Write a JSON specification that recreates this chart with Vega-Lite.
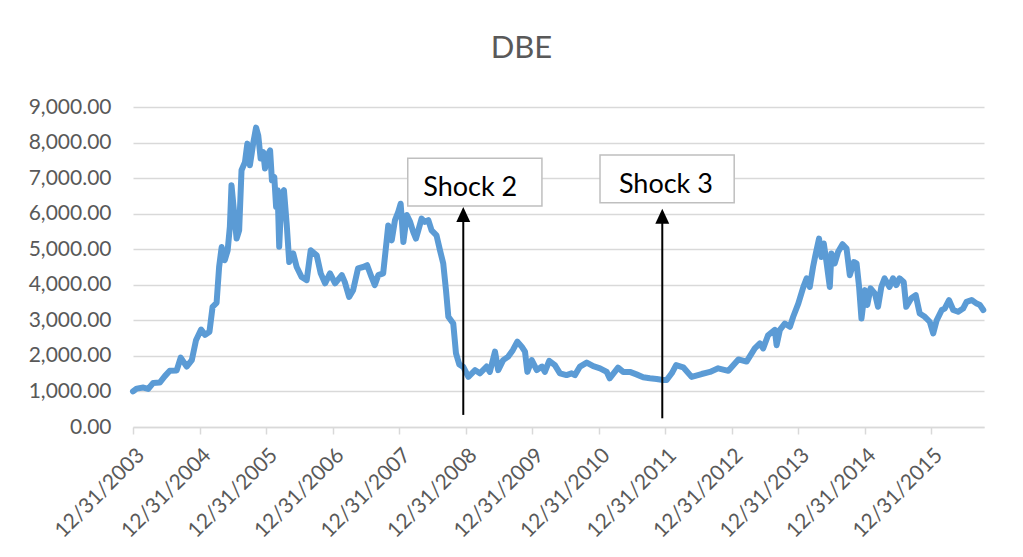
{
  "$schema": "https://vega.github.io/schema/vega-lite/v6.json",
  "width": 851,
  "height": 320,
  "autosize": "none",
  "padding": {"left": 133, "top": 107, "right": 39, "bottom": 130},
  "background": "white",
  "title": {"text": "DBE", "font": "Lato", "fontSize": 31, "fontWeight": "normal", "color": "#595959", "dx": -37, "offset": 31},
  "config": {"view": {"stroke": null}, "font": "Lato"},
  "datasets": {
    "series": [
      {"date": "2003-12-31", "value": 1000}, {"date": "2004-01-20", "value": 1080}, {"date": "2004-02-26", "value": 1110},
      {"date": "2004-03-23", "value": 1070}, {"date": "2004-04-20", "value": 1240}, {"date": "2004-05-26", "value": 1250},
      {"date": "2004-06-23", "value": 1430}, {"date": "2004-07-20", "value": 1580}, {"date": "2004-08-27", "value": 1590},
      {"date": "2004-09-18", "value": 1950}, {"date": "2004-10-21", "value": 1700}, {"date": "2004-11-18", "value": 1880},
      {"date": "2004-12-11", "value": 2440}, {"date": "2005-01-08", "value": 2740}, {"date": "2005-01-30", "value": 2590},
      {"date": "2005-02-23", "value": 2680}, {"date": "2005-03-12", "value": 3380}, {"date": "2005-04-03", "value": 3490},
      {"date": "2005-04-17", "value": 4500}, {"date": "2005-05-01", "value": 5060}, {"date": "2005-05-18", "value": 4690},
      {"date": "2005-06-03", "value": 4970}, {"date": "2005-06-15", "value": 5630}, {"date": "2005-06-24", "value": 6800},
      {"date": "2005-07-07", "value": 6100}, {"date": "2005-07-22", "value": 5300}, {"date": "2005-08-05", "value": 5530},
      {"date": "2005-08-18", "value": 7220}, {"date": "2005-09-06", "value": 7450}, {"date": "2005-09-19", "value": 7970},
      {"date": "2005-10-03", "value": 7360}, {"date": "2005-10-21", "value": 7970}, {"date": "2005-11-06", "value": 8420},
      {"date": "2005-11-18", "value": 8200}, {"date": "2005-12-01", "value": 7550}, {"date": "2005-12-15", "value": 7730},
      {"date": "2005-12-25", "value": 7270}, {"date": "2006-01-07", "value": 7640}, {"date": "2006-01-22", "value": 7780},
      {"date": "2006-02-01", "value": 6940}, {"date": "2006-02-14", "value": 7030}, {"date": "2006-02-24", "value": 6190},
      {"date": "2006-03-04", "value": 6660}, {"date": "2006-03-13", "value": 5070}, {"date": "2006-03-26", "value": 6560},
      {"date": "2006-04-08", "value": 6660}, {"date": "2006-04-23", "value": 5720}, {"date": "2006-05-07", "value": 4640},
      {"date": "2006-05-29", "value": 4880}, {"date": "2006-06-17", "value": 4500}, {"date": "2006-07-14", "value": 4220},
      {"date": "2006-08-11", "value": 4130}, {"date": "2006-09-02", "value": 4970}, {"date": "2006-10-05", "value": 4830},
      {"date": "2006-10-27", "value": 4320}, {"date": "2006-11-20", "value": 4040}, {"date": "2006-12-17", "value": 4320},
      {"date": "2007-01-14", "value": 4040}, {"date": "2007-02-20", "value": 4270}, {"date": "2007-03-08", "value": 4080},
      {"date": "2007-04-01", "value": 3660}, {"date": "2007-04-23", "value": 3850}, {"date": "2007-05-20", "value": 4460},
      {"date": "2007-06-17", "value": 4500}, {"date": "2007-07-09", "value": 4550}, {"date": "2007-08-02", "value": 4220},
      {"date": "2007-08-20", "value": 3990}, {"date": "2007-09-08", "value": 4270}, {"date": "2007-10-05", "value": 4320},
      {"date": "2007-11-02", "value": 5670}, {"date": "2007-11-21", "value": 5250}, {"date": "2007-12-09", "value": 5820},
      {"date": "2007-12-27", "value": 6050}, {"date": "2008-01-09", "value": 6280}, {"date": "2008-01-24", "value": 5200},
      {"date": "2008-02-12", "value": 5960}, {"date": "2008-03-01", "value": 5770}, {"date": "2008-03-18", "value": 5490},
      {"date": "2008-04-02", "value": 5300}, {"date": "2008-04-15", "value": 5530}, {"date": "2008-05-03", "value": 5860},
      {"date": "2008-05-21", "value": 5770}, {"date": "2008-06-09", "value": 5820}, {"date": "2008-06-27", "value": 5530},
      {"date": "2008-07-24", "value": 5390}, {"date": "2008-08-12", "value": 4970}, {"date": "2008-08-30", "value": 4600},
      {"date": "2008-09-14", "value": 3850}, {"date": "2008-09-27", "value": 3100}, {"date": "2008-10-24", "value": 2910},
      {"date": "2008-11-08", "value": 2070}, {"date": "2008-11-26", "value": 1760}, {"date": "2008-12-18", "value": 1690},
      {"date": "2009-01-15", "value": 1410}, {"date": "2009-02-21", "value": 1600}, {"date": "2009-03-19", "value": 1510},
      {"date": "2009-04-25", "value": 1700}, {"date": "2009-05-13", "value": 1550}, {"date": "2009-06-10", "value": 2120},
      {"date": "2009-06-28", "value": 1600}, {"date": "2009-07-25", "value": 1880}, {"date": "2009-08-22", "value": 1980},
      {"date": "2009-09-16", "value": 2160}, {"date": "2009-10-11", "value": 2400}, {"date": "2009-11-04", "value": 2260},
      {"date": "2009-11-22", "value": 2120}, {"date": "2009-12-05", "value": 1550}, {"date": "2009-12-29", "value": 1880},
      {"date": "2010-01-26", "value": 1600}, {"date": "2010-02-23", "value": 1700}, {"date": "2010-03-11", "value": 1550},
      {"date": "2010-04-04", "value": 1860}, {"date": "2010-05-05", "value": 1740}, {"date": "2010-06-02", "value": 1510},
      {"date": "2010-07-08", "value": 1460}, {"date": "2010-08-05", "value": 1510}, {"date": "2010-08-23", "value": 1460},
      {"date": "2010-09-20", "value": 1700}, {"date": "2010-10-27", "value": 1810}, {"date": "2010-12-02", "value": 1710},
      {"date": "2011-01-08", "value": 1650}, {"date": "2011-02-14", "value": 1550}, {"date": "2011-03-02", "value": 1370},
      {"date": "2011-04-17", "value": 1670}, {"date": "2011-05-15", "value": 1550}, {"date": "2011-06-21", "value": 1550},
      {"date": "2011-07-27", "value": 1480}, {"date": "2011-09-02", "value": 1400}, {"date": "2011-10-09", "value": 1370},
      {"date": "2011-11-15", "value": 1350}, {"date": "2011-12-21", "value": 1320}, {"date": "2012-01-09", "value": 1320},
      {"date": "2012-02-06", "value": 1510}, {"date": "2012-03-01", "value": 1740}, {"date": "2012-04-09", "value": 1680},
      {"date": "2012-05-25", "value": 1410}, {"date": "2012-07-19", "value": 1490}, {"date": "2012-09-03", "value": 1550},
      {"date": "2012-10-18", "value": 1650}, {"date": "2012-12-13", "value": 1580}, {"date": "2013-02-06", "value": 1900},
      {"date": "2013-03-23", "value": 1840}, {"date": "2013-05-07", "value": 2210}, {"date": "2013-06-04", "value": 2350},
      {"date": "2013-06-22", "value": 2210}, {"date": "2013-07-19", "value": 2580}, {"date": "2013-08-25", "value": 2730},
      {"date": "2013-09-04", "value": 2300}, {"date": "2013-09-22", "value": 2730}, {"date": "2013-10-19", "value": 2910},
      {"date": "2013-11-16", "value": 2820}, {"date": "2013-12-04", "value": 3100}, {"date": "2014-01-01", "value": 3470},
      {"date": "2014-01-29", "value": 3940}, {"date": "2014-02-16", "value": 4180}, {"date": "2014-03-05", "value": 3940},
      {"date": "2014-03-23", "value": 4500}, {"date": "2014-04-07", "value": 4880}, {"date": "2014-04-25", "value": 5300},
      {"date": "2014-05-08", "value": 4780}, {"date": "2014-05-21", "value": 5160}, {"date": "2014-06-05", "value": 4640},
      {"date": "2014-06-23", "value": 3940}, {"date": "2014-07-02", "value": 4880}, {"date": "2014-07-20", "value": 4600},
      {"date": "2014-08-08", "value": 4930}, {"date": "2014-09-01", "value": 5140}, {"date": "2014-09-23", "value": 5020},
      {"date": "2014-10-11", "value": 4270}, {"date": "2014-11-02", "value": 4640}, {"date": "2014-11-17", "value": 4600},
      {"date": "2014-12-01", "value": 3940}, {"date": "2014-12-14", "value": 3050}, {"date": "2015-01-02", "value": 3850},
      {"date": "2015-01-15", "value": 3430}, {"date": "2015-02-02", "value": 3900}, {"date": "2015-02-26", "value": 3750},
      {"date": "2015-03-15", "value": 3380}, {"date": "2015-04-02", "value": 3940}, {"date": "2015-04-20", "value": 4180},
      {"date": "2015-05-17", "value": 3940}, {"date": "2015-06-05", "value": 4180}, {"date": "2015-06-23", "value": 3990},
      {"date": "2015-07-11", "value": 4180}, {"date": "2015-08-03", "value": 4080}, {"date": "2015-08-17", "value": 3380},
      {"date": "2015-09-14", "value": 3620}, {"date": "2015-10-08", "value": 3710}, {"date": "2015-10-30", "value": 3190},
      {"date": "2015-11-27", "value": 3100}, {"date": "2015-12-24", "value": 2960}, {"date": "2016-01-12", "value": 2630},
      {"date": "2016-01-31", "value": 3000}, {"date": "2016-02-28", "value": 3290}, {"date": "2016-03-15", "value": 3330},
      {"date": "2016-04-08", "value": 3570}, {"date": "2016-05-01", "value": 3290}, {"date": "2016-05-28", "value": 3240},
      {"date": "2016-06-24", "value": 3330}, {"date": "2016-07-13", "value": 3520}, {"date": "2016-08-10", "value": 3570},
      {"date": "2016-09-07", "value": 3470}, {"date": "2016-09-25", "value": 3430}, {"date": "2016-10-13", "value": 3290}
    ],
    "boxes": [
      {"start": "2008-02-17", "end": "2010-02-23", "top": 7557, "bottom": 6216},
      {"start": "2011-01-08", "end": "2013-01-14", "top": 7650, "bottom": 6308}
    ],
    "labels": [
      {"date": "2009-01-25", "value": 6497, "text": "Shock 2"},
      {"date": "2012-01-05", "value": 6573, "text": "Shock 3"}
    ],
    "arrows": [
      {"date": "2008-12-18", "base": 340, "head": 5979},
      {"date": "2011-12-16", "base": 245, "head": 5929}
    ]
  },
  "layer": [
    {
      "data": {"name": "series"},
      "mark": {"type": "line", "color": "#5B9BD5", "strokeWidth": 6, "strokeJoin": "round", "strokeCap": "round"},
      "encoding": {
        "x": {
          "field": "date", "type": "temporal", "title": null,
          "scale": {"type": "utc", "domain": [{"year": 2003, "month": 12, "date": 31, "utc": true}, {"year": 2016, "month": 10, "date": 17, "utc": true}]},
          "axis": {
            "values": [
              {"year": 2003, "month": 12, "date": 31, "utc": true}, {"year": 2004, "month": 12, "date": 31, "utc": true},
              {"year": 2005, "month": 12, "date": 31, "utc": true}, {"year": 2006, "month": 12, "date": 31, "utc": true},
              {"year": 2007, "month": 12, "date": 31, "utc": true}, {"year": 2008, "month": 12, "date": 31, "utc": true},
              {"year": 2009, "month": 12, "date": 31, "utc": true}, {"year": 2010, "month": 12, "date": 31, "utc": true},
              {"year": 2011, "month": 12, "date": 31, "utc": true}, {"year": 2012, "month": 12, "date": 31, "utc": true},
              {"year": 2013, "month": 12, "date": 31, "utc": true}, {"year": 2014, "month": 12, "date": 31, "utc": true},
              {"year": 2015, "month": 12, "date": 31, "utc": true}
            ],
            "tickCount": 30,
            "format": "%m/%d/%Y", "labelAngle": -45, "labelFont": "Lato", "labelFontSize": 21, "labelColor": "#595959",
            "domainColor": "#D9D9D9", "domainWidth": 1.5, "tickColor": "#D9D9D9", "tickWidth": 1.5, "tickSize": 7,
            "grid": false, "labelPadding": 10, "labelOverlap": false, "labelBound": false, "labelFlush": false, "title": null
          }
        },
        "y": {
          "field": "value", "type": "quantitative", "title": null,
          "scale": {"domain": [0, 9000], "nice": false},
          "axis": {
            "values": [0, 1000, 2000, 3000, 4000, 5000, 6000, 7000, 8000, 9000],
            "tickCount": 20,
            "format": ",.2f", "labelFont": "Lato", "labelFontSize": 21, "labelColor": "#595959",
            "labelOverlap": false, "labelBound": false, "labelFlush": false,
            "domain": false, "ticks": false, "grid": true, "gridColor": "#D9D9D9", "gridWidth": 1.5, "labelPadding": 22, "title": null
          }
        }
      }
    },
    {
      "data": {"name": "arrows"},
      "mark": {"type": "rule", "color": "black", "strokeWidth": 2},
      "encoding": {
        "x": {"field": "date", "type": "temporal", "title": null},
        "y": {"field": "base", "type": "quantitative", "title": null},
        "y2": {"field": "head"}
      }
    },
    {
      "data": {"name": "arrows"},
      "mark": {"type": "point", "shape": "M-0.93,1L0,-1L0.93,1Z", "filled": true, "color": "black", "opacity": 1, "size": 225},
      "encoding": {
        "x": {"field": "date", "type": "temporal", "title": null},
        "y": {"field": "head", "type": "quantitative", "title": null}
      }
    },
    {
      "data": {"name": "boxes"},
      "mark": {"type": "rect", "fill": "white", "stroke": "#BFBFBF", "strokeWidth": 1.5},
      "encoding": {
        "x": {"field": "start", "type": "temporal", "title": null},
        "x2": {"field": "end"},
        "y": {"field": "top", "type": "quantitative", "title": null},
        "y2": {"field": "bottom"}
      }
    },
    {
      "data": {"name": "labels"},
      "mark": {"type": "text", "font": "Lato", "fontSize": 27, "color": "black", "align": "center", "baseline": "alphabetic"},
      "encoding": {
        "x": {"field": "date", "type": "temporal", "title": null},
        "y": {"field": "value", "type": "quantitative", "title": null},
        "text": {"field": "text"}
      }
    }
  ]
}
